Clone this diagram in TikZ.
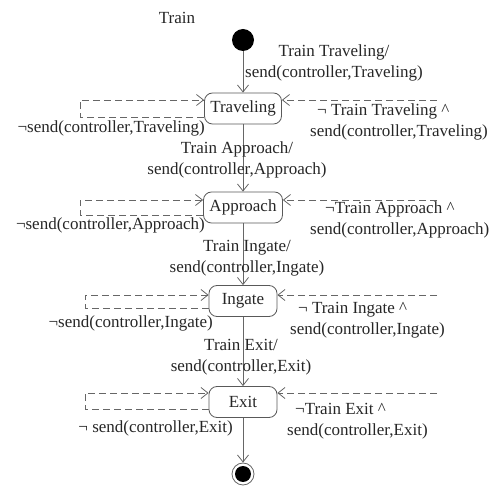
\documentclass[tikz,border=0pt]{standalone}
\usepackage{fontspec}
\setmainfont{Liberation Serif}
\usetikzlibrary{arrows.meta}

\begin{document}
\begin{tikzpicture}[x=1pt,y=-1pt,
  every node/.style={font=\fontsize{17}{21}\selectfont, text=black!85, inner sep=0pt},
  state/.style={draw=black!65, rounded corners=8pt, minimum height=31pt, line width=0.8pt},
  flow/.style={draw=black!60, line width=0.8pt, -{Straight Barb[length=7pt,width=11pt]}},
  guard/.style={flow, dash pattern=on 7pt off 4pt}]
\useasboundingbox (0,0) rectangle (493,486);

% title
\node (title) at (177,18) {Train};

% pseudo states
\node[circle, fill=black, minimum size=22pt] (init) at (243,40) {};
\node[circle, draw=black!60, line width=0.8pt, minimum size=22pt] (fin) at (243,474) {};
\node[circle, fill=black, minimum size=16pt] (finin) at (fin) {};

% states
\node[state, minimum width=77pt] (trav) at (243,108.5) {Traveling};
\node[state, minimum width=79pt] (app)  at (243,207.5) {Approach};
\node[state, minimum width=68pt] (ing)  at (243,301) {Ingate};
\node[state, minimum width=68pt] (ex)   at (243,402) {Exit};

% main transitions
\draw[flow] (init) -- (trav);
\draw[flow] (trav) -- (app);
\draw[flow] (app) -- (ing);
\draw[flow] (ing) -- (ex);
\draw[flow] (ex) -- (fin);

% free ends of the incoming guard edges
\coordinate (travR) at (437,100);
\coordinate (appR)  at (437,200);
\coordinate (ingR)  at (437,295);
\coordinate (exR)   at (437,393);

% self loops on the left
\draw[guard] ([yshift=-8.5pt]trav.west) -| (80,100) -- ([yshift=8.5pt]trav.west);
\draw[guard] ([yshift=-7.5pt]app.west) -| (80,200) -- ([yshift=7.5pt]app.west);
\draw[guard] ([yshift=-7pt]ing.west) -| (85,295) -- ([yshift=6pt]ing.west);
\draw[guard] ([yshift=-7pt]ex.west) -| (85,393) -- ([yshift=9pt]ex.west);

% incoming guards on the right
\draw[guard] (travR) -- ([yshift=8.5pt]trav.east);
\draw[guard] (appR) -- ([yshift=7.5pt]app.east);
\draw[guard] (ingR) -- ([yshift=6pt]ing.east);
\draw[guard] (exR) -- ([yshift=9pt]ex.east);

% transition labels
\node[align=center] (l0) at (334,62.5) {Train Traveling/\\send(controller,Traveling)};
\node[align=center] (l1) at (237,160) {Train Approach/\\send(controller,Approach)};
\node[align=center] (l2) at (247,258) {Train Ingate/\\send(controller,Ingate)};
\node[align=center] (l3) at (241,357.5) {Train Exit/\\send(controller,Exit)};

% loop labels
\node[anchor=east] (travL) at (205,128) {¬send(controller,Traveling)};
\node[anchor=east] (appL)  at (205,225) {¬send(controller,Approach)};
\node[anchor=east] (ingL)  at (213,323) {¬send(controller,Ingate)};
\node[anchor=east] (exL)   at (233,428) {¬ send(controller,Exit)};

% guard labels
\node[align=left, anchor=west] (travG) at (310,122) {\hspace{7pt}¬ Train Traveling \textasciicircum\\send(controller,Traveling)};
\node[align=left, anchor=west] (appG)  at (310,220) {\hspace{15pt}¬Train Approach \textasciicircum\\send(controller,Approach)};
\node[align=left, anchor=west] (ingG)  at (290,320) {\hspace{8pt}¬ Train Ingate \textasciicircum\\send(controller,Ingate)};
\node[align=left, anchor=west] (exG)   at (287,421) {\hspace{8pt}¬Train Exit \textasciicircum\\send(controller,Exit)};
\end{tikzpicture}
\end{document}
